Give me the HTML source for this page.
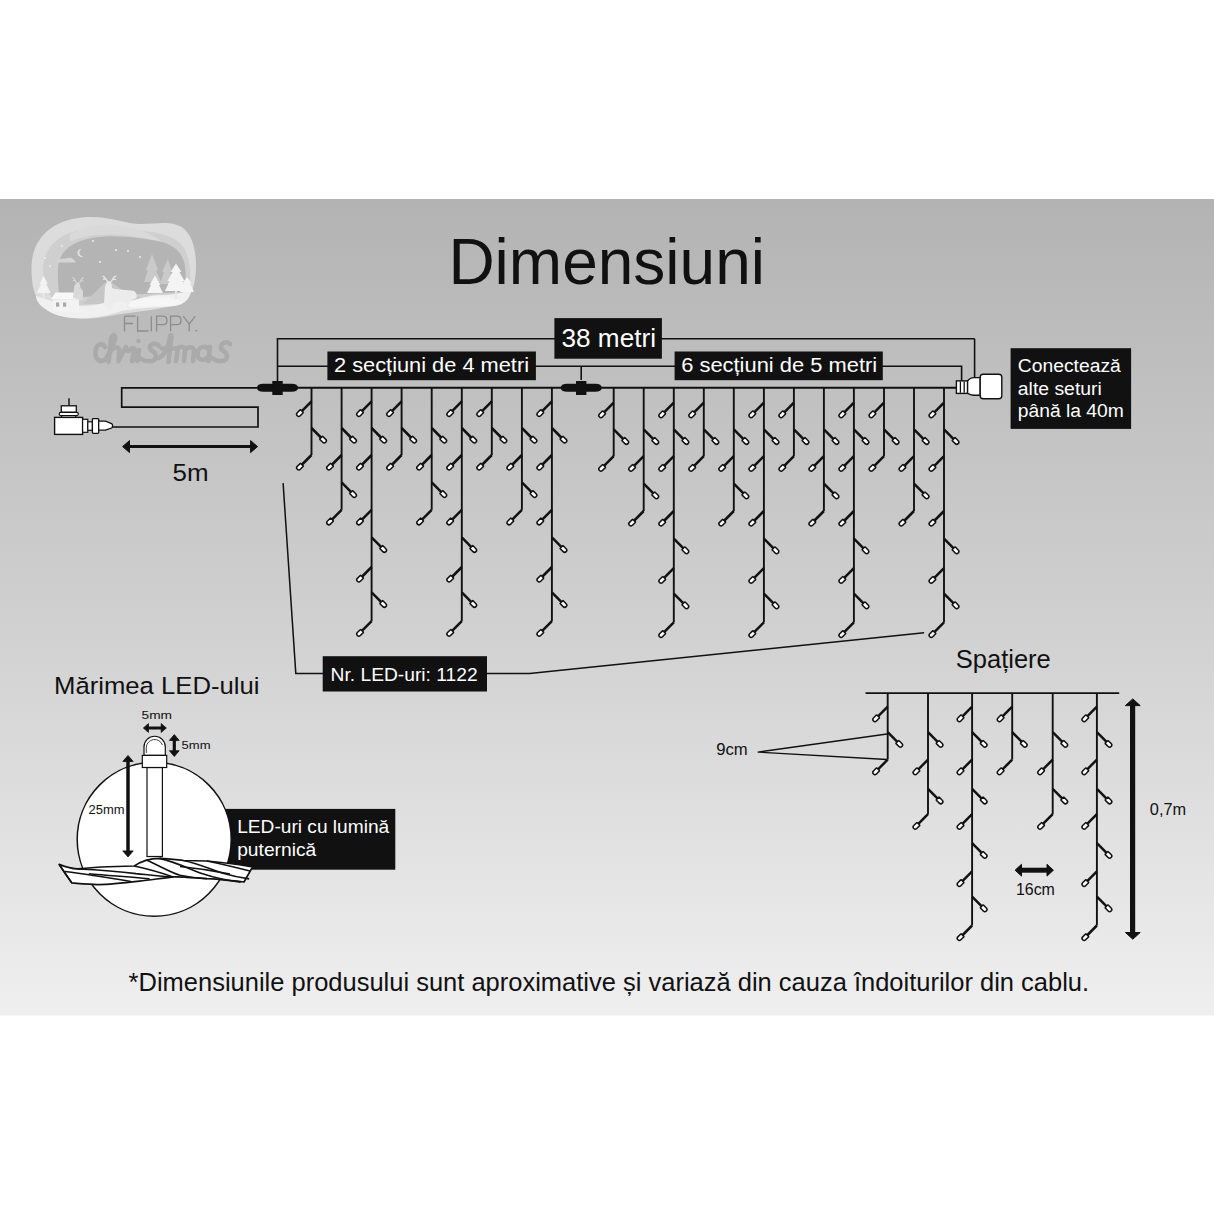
<!DOCTYPE html><html><head><meta charset="utf-8"><style>html,body{margin:0;padding:0;background:#fff;width:1214px;height:1214px;overflow:hidden}svg{display:block}text{font-family:"Liberation Sans",sans-serif}</style></head><body>
<svg width="1214" height="1214" viewBox="0 0 1214 1214">
<defs><linearGradient id="bg" x1="0" y1="0" x2="0" y2="1"><stop offset="0" stop-color="#b3b3b3"/><stop offset="0.5" stop-color="#cfcfcf"/><stop offset="1" stop-color="#efefef"/></linearGradient></defs>
<rect x="0" y="199" width="1214" height="816.5" fill="url(#bg)"/>
<text x="448.4" y="284.4" font-size="64" fill="#111111" >Dimensiuni</text>
<path d="M277.5 381V338.7H974.6" stroke="#111111" stroke-width="1.6" fill="none"/>
<path d="M277.5 366.3H961.6V382" stroke="#111111" stroke-width="1.6" fill="none"/>
<path d="M581.2 366.3V380" stroke="#111111" stroke-width="1.6" fill="none"/>
<rect x="554.4" y="318.1" width="107.5" height="40.6" fill="#111111"/>
<text x="561.5" y="347.1" font-size="26" fill="#fff" textLength="94.5" lengthAdjust="spacingAndGlyphs" >38 metri</text>
<rect x="327.4" y="351.5" width="208.5" height="28.7" fill="#111111"/>
<text x="334" y="371.9" font-size="20" fill="#fff" textLength="195" lengthAdjust="spacingAndGlyphs" >2 secțiuni de 4 metri</text>
<rect x="674.6" y="351.5" width="208.2" height="28.7" fill="#111111"/>
<text x="681.2" y="371.9" font-size="20" fill="#fff" textLength="196" lengthAdjust="spacingAndGlyphs" >6 secțiuni de 5 metri</text>
<path d="M257.5 387.7H958" stroke="#111111" stroke-width="2" fill="none"/>
<path d="M257.5 387.9H121.7V407.2H258V427H110" stroke="#111111" stroke-width="1.7" fill="none"/>
<path d="M257.0 387.7 Q257.0 383.8 263.5 383.8 H291.5 Q298.0 383.8 298.0 387.7 Q298.0 391.7 291.5 391.7 H263.5 Q257.0 391.7 257.0 387.7Z" fill="#111111"/>
<rect x="272.3" y="381" width="10.4" height="14" fill="#111111"/>
<path d="M560.7 387.7 Q560.7 383.8 567.2 383.8 H595.2 Q601.7 383.8 601.7 387.7 Q601.7 391.7 595.2 391.7 H567.2 Q560.7 391.7 560.7 387.7Z" fill="#111111"/>
<rect x="576.0" y="381" width="10.4" height="14" fill="#111111"/>
<path d="M974.6 338.7V378" stroke="#111111" stroke-width="1.6" fill="none"/>
<rect x="956.4" y="380.9" width="11.2" height="12.5" fill="#fff" stroke="#111111" stroke-width="1.4"/>
<path d="M960.4 381.5V392.8M964.2 381.5V392.8" stroke="#111111" stroke-width="1.3"/>
<path d="M967.6 381 Q970 377.6 974 377.6 H980.2 V395.2 H974 Q970 395.2 967.6 393.3Z" fill="#fff" stroke="#111111" stroke-width="1.4"/>
<rect x="980.2" y="374.2" width="21.6" height="24.6" rx="3" fill="#fff" stroke="#111111" stroke-width="1.4"/>
<rect x="1010.6" y="348.2" width="120.5" height="80.7" fill="#111111"/>
<text x="1017.8" y="372" font-size="18" fill="#fff" textLength="103" lengthAdjust="spacingAndGlyphs" >Conectează</text>
<text x="1017.8" y="395.2" font-size="18" fill="#fff" textLength="84" lengthAdjust="spacingAndGlyphs" >alte seturi</text>
<text x="1017.8" y="417.4" font-size="18" fill="#fff" textLength="106" lengthAdjust="spacingAndGlyphs" >până la 40m</text>
<path d="M69 398.3V405.8" stroke="#111111" stroke-width="1.4"/>
<rect x="61.6" y="415" width="14.1" height="3" fill="#fff" stroke="#111111" stroke-width="1.1"/>
<rect x="61.3" y="405.8" width="15" height="6.5" fill="#fff" stroke="#111111" stroke-width="1.3"/>
<rect x="59.2" y="412.4" width="19.1" height="3.2" rx="1.5" fill="#fff" stroke="#111111" stroke-width="1.2"/>
<rect x="54.6" y="417.4" width="28" height="17" fill="#fff" stroke="#111111" stroke-width="1.4"/>
<rect x="82.6" y="419.3" width="5.2" height="13" fill="#fff" stroke="#111111" stroke-width="1.2"/>
<rect x="87.8" y="421.8" width="4.6" height="8.5" fill="#fff" stroke="#111111" stroke-width="1.2"/>
<rect x="92.4" y="418.6" width="6.3" height="14.8" rx="0.8" fill="#fff" stroke="#111111" stroke-width="1.3"/>
<path d="M98.7 421.2H105.5L111.5 423.6Q112.6 424.2 112.6 425.8Q112.6 427.4 111.5 428L105.5 430.2H98.7Z" fill="#fff" stroke="#111111" stroke-width="1.3"/>
<path d="M128 446.6H252" stroke="#111111" stroke-width="3"/>
<path d="M122.6 446.6L129.5 440.6V452.6Z M257.5 446.6L250.6 440.6V452.6Z" fill="#111111" stroke="#111111" stroke-width="1" stroke-linejoin="round"/>
<text x="172.5" y="481.4" font-size="23" fill="#111111" textLength="36" lengthAdjust="spacingAndGlyphs" >5m</text>
<path d="M311.5 387.7V455.0" stroke="#111111" stroke-width="1.9" fill="none"/>
<path d="M311.5 401.4L299.6 413.4" stroke="#111111" stroke-width="2.5" fill="none" stroke-linecap="butt"/>
<path d="M-2.9 -2.1H1.2A2.1 2.1 0 0 1 1.2 2.1H-2.9Q-3.3 2.1 -3.3 1.7V-1.7Q-3.3 -2.1 -2.9 -2.1Z" transform="translate(299.6,413.4) rotate(135)" fill="#fff" stroke="#111111" stroke-width="1.5"/>
<path d="M311.5 428.0L323.4 440.0" stroke="#111111" stroke-width="2.5" fill="none" stroke-linecap="butt"/>
<path d="M-2.9 -2.1H1.2A2.1 2.1 0 0 1 1.2 2.1H-2.9Q-3.3 2.1 -3.3 1.7V-1.7Q-3.3 -2.1 -2.9 -2.1Z" transform="translate(323.4,440.0) rotate(45)" fill="#fff" stroke="#111111" stroke-width="1.5"/>
<path d="M311.5 455.0L299.6 467.0" stroke="#111111" stroke-width="2.5" fill="none" stroke-linecap="butt"/>
<path d="M-2.9 -2.1H1.2A2.1 2.1 0 0 1 1.2 2.1H-2.9Q-3.3 2.1 -3.3 1.7V-1.7Q-3.3 -2.1 -2.9 -2.1Z" transform="translate(299.6,467.0) rotate(135)" fill="#fff" stroke="#111111" stroke-width="1.5"/>
<path d="M341.6 387.7V509.8" stroke="#111111" stroke-width="1.9" fill="none"/>
<path d="M341.6 428.0L353.4 440.0" stroke="#111111" stroke-width="2.5" fill="none" stroke-linecap="butt"/>
<path d="M-2.9 -2.1H1.2A2.1 2.1 0 0 1 1.2 2.1H-2.9Q-3.3 2.1 -3.3 1.7V-1.7Q-3.3 -2.1 -2.9 -2.1Z" transform="translate(353.4,440.0) rotate(45)" fill="#fff" stroke="#111111" stroke-width="1.5"/>
<path d="M341.6 455.0L329.7 467.0" stroke="#111111" stroke-width="2.5" fill="none" stroke-linecap="butt"/>
<path d="M-2.9 -2.1H1.2A2.1 2.1 0 0 1 1.2 2.1H-2.9Q-3.3 2.1 -3.3 1.7V-1.7Q-3.3 -2.1 -2.9 -2.1Z" transform="translate(329.7,467.0) rotate(135)" fill="#fff" stroke="#111111" stroke-width="1.5"/>
<path d="M341.6 482.4L353.4 494.4" stroke="#111111" stroke-width="2.5" fill="none" stroke-linecap="butt"/>
<path d="M-2.9 -2.1H1.2A2.1 2.1 0 0 1 1.2 2.1H-2.9Q-3.3 2.1 -3.3 1.7V-1.7Q-3.3 -2.1 -2.9 -2.1Z" transform="translate(353.4,494.4) rotate(45)" fill="#fff" stroke="#111111" stroke-width="1.5"/>
<path d="M341.6 509.8L329.7 521.8" stroke="#111111" stroke-width="2.5" fill="none" stroke-linecap="butt"/>
<path d="M-2.9 -2.1H1.2A2.1 2.1 0 0 1 1.2 2.1H-2.9Q-3.3 2.1 -3.3 1.7V-1.7Q-3.3 -2.1 -2.9 -2.1Z" transform="translate(329.7,521.8) rotate(135)" fill="#fff" stroke="#111111" stroke-width="1.5"/>
<path d="M371.6 387.7V621.2" stroke="#111111" stroke-width="1.9" fill="none"/>
<path d="M371.6 401.4L359.7 413.4" stroke="#111111" stroke-width="2.5" fill="none" stroke-linecap="butt"/>
<path d="M-2.9 -2.1H1.2A2.1 2.1 0 0 1 1.2 2.1H-2.9Q-3.3 2.1 -3.3 1.7V-1.7Q-3.3 -2.1 -2.9 -2.1Z" transform="translate(359.7,413.4) rotate(135)" fill="#fff" stroke="#111111" stroke-width="1.5"/>
<path d="M371.6 428.0L383.5 440.0" stroke="#111111" stroke-width="2.5" fill="none" stroke-linecap="butt"/>
<path d="M-2.9 -2.1H1.2A2.1 2.1 0 0 1 1.2 2.1H-2.9Q-3.3 2.1 -3.3 1.7V-1.7Q-3.3 -2.1 -2.9 -2.1Z" transform="translate(383.5,440.0) rotate(45)" fill="#fff" stroke="#111111" stroke-width="1.5"/>
<path d="M371.6 455.0L359.7 467.0" stroke="#111111" stroke-width="2.5" fill="none" stroke-linecap="butt"/>
<path d="M-2.9 -2.1H1.2A2.1 2.1 0 0 1 1.2 2.1H-2.9Q-3.3 2.1 -3.3 1.7V-1.7Q-3.3 -2.1 -2.9 -2.1Z" transform="translate(359.7,467.0) rotate(135)" fill="#fff" stroke="#111111" stroke-width="1.5"/>
<path d="M371.6 509.8L359.7 521.8" stroke="#111111" stroke-width="2.5" fill="none" stroke-linecap="butt"/>
<path d="M-2.9 -2.1H1.2A2.1 2.1 0 0 1 1.2 2.1H-2.9Q-3.3 2.1 -3.3 1.7V-1.7Q-3.3 -2.1 -2.9 -2.1Z" transform="translate(359.7,521.8) rotate(135)" fill="#fff" stroke="#111111" stroke-width="1.5"/>
<path d="M371.6 537.3L383.5 549.3" stroke="#111111" stroke-width="2.5" fill="none" stroke-linecap="butt"/>
<path d="M-2.9 -2.1H1.2A2.1 2.1 0 0 1 1.2 2.1H-2.9Q-3.3 2.1 -3.3 1.7V-1.7Q-3.3 -2.1 -2.9 -2.1Z" transform="translate(383.5,549.3) rotate(45)" fill="#fff" stroke="#111111" stroke-width="1.5"/>
<path d="M371.6 567.0L359.7 579.0" stroke="#111111" stroke-width="2.5" fill="none" stroke-linecap="butt"/>
<path d="M-2.9 -2.1H1.2A2.1 2.1 0 0 1 1.2 2.1H-2.9Q-3.3 2.1 -3.3 1.7V-1.7Q-3.3 -2.1 -2.9 -2.1Z" transform="translate(359.7,579.0) rotate(135)" fill="#fff" stroke="#111111" stroke-width="1.5"/>
<path d="M371.6 592.3L383.5 604.3" stroke="#111111" stroke-width="2.5" fill="none" stroke-linecap="butt"/>
<path d="M-2.9 -2.1H1.2A2.1 2.1 0 0 1 1.2 2.1H-2.9Q-3.3 2.1 -3.3 1.7V-1.7Q-3.3 -2.1 -2.9 -2.1Z" transform="translate(383.5,604.3) rotate(45)" fill="#fff" stroke="#111111" stroke-width="1.5"/>
<path d="M371.6 621.2L359.7 633.2" stroke="#111111" stroke-width="2.5" fill="none" stroke-linecap="butt"/>
<path d="M-2.9 -2.1H1.2A2.1 2.1 0 0 1 1.2 2.1H-2.9Q-3.3 2.1 -3.3 1.7V-1.7Q-3.3 -2.1 -2.9 -2.1Z" transform="translate(359.7,633.2) rotate(135)" fill="#fff" stroke="#111111" stroke-width="1.5"/>
<path d="M401.6 387.7V455.0" stroke="#111111" stroke-width="1.9" fill="none"/>
<path d="M401.6 401.4L389.8 413.4" stroke="#111111" stroke-width="2.5" fill="none" stroke-linecap="butt"/>
<path d="M-2.9 -2.1H1.2A2.1 2.1 0 0 1 1.2 2.1H-2.9Q-3.3 2.1 -3.3 1.7V-1.7Q-3.3 -2.1 -2.9 -2.1Z" transform="translate(389.8,413.4) rotate(135)" fill="#fff" stroke="#111111" stroke-width="1.5"/>
<path d="M401.6 428.0L413.5 440.0" stroke="#111111" stroke-width="2.5" fill="none" stroke-linecap="butt"/>
<path d="M-2.9 -2.1H1.2A2.1 2.1 0 0 1 1.2 2.1H-2.9Q-3.3 2.1 -3.3 1.7V-1.7Q-3.3 -2.1 -2.9 -2.1Z" transform="translate(413.5,440.0) rotate(45)" fill="#fff" stroke="#111111" stroke-width="1.5"/>
<path d="M401.6 455.0L389.8 467.0" stroke="#111111" stroke-width="2.5" fill="none" stroke-linecap="butt"/>
<path d="M-2.9 -2.1H1.2A2.1 2.1 0 0 1 1.2 2.1H-2.9Q-3.3 2.1 -3.3 1.7V-1.7Q-3.3 -2.1 -2.9 -2.1Z" transform="translate(389.8,467.0) rotate(135)" fill="#fff" stroke="#111111" stroke-width="1.5"/>
<path d="M431.7 387.7V509.8" stroke="#111111" stroke-width="1.9" fill="none"/>
<path d="M431.7 428.0L443.6 440.0" stroke="#111111" stroke-width="2.5" fill="none" stroke-linecap="butt"/>
<path d="M-2.9 -2.1H1.2A2.1 2.1 0 0 1 1.2 2.1H-2.9Q-3.3 2.1 -3.3 1.7V-1.7Q-3.3 -2.1 -2.9 -2.1Z" transform="translate(443.6,440.0) rotate(45)" fill="#fff" stroke="#111111" stroke-width="1.5"/>
<path d="M431.7 455.0L419.8 467.0" stroke="#111111" stroke-width="2.5" fill="none" stroke-linecap="butt"/>
<path d="M-2.9 -2.1H1.2A2.1 2.1 0 0 1 1.2 2.1H-2.9Q-3.3 2.1 -3.3 1.7V-1.7Q-3.3 -2.1 -2.9 -2.1Z" transform="translate(419.8,467.0) rotate(135)" fill="#fff" stroke="#111111" stroke-width="1.5"/>
<path d="M431.7 482.4L443.6 494.4" stroke="#111111" stroke-width="2.5" fill="none" stroke-linecap="butt"/>
<path d="M-2.9 -2.1H1.2A2.1 2.1 0 0 1 1.2 2.1H-2.9Q-3.3 2.1 -3.3 1.7V-1.7Q-3.3 -2.1 -2.9 -2.1Z" transform="translate(443.6,494.4) rotate(45)" fill="#fff" stroke="#111111" stroke-width="1.5"/>
<path d="M431.7 509.8L419.8 521.8" stroke="#111111" stroke-width="2.5" fill="none" stroke-linecap="butt"/>
<path d="M-2.9 -2.1H1.2A2.1 2.1 0 0 1 1.2 2.1H-2.9Q-3.3 2.1 -3.3 1.7V-1.7Q-3.3 -2.1 -2.9 -2.1Z" transform="translate(419.8,521.8) rotate(135)" fill="#fff" stroke="#111111" stroke-width="1.5"/>
<path d="M461.8 387.7V621.2" stroke="#111111" stroke-width="1.9" fill="none"/>
<path d="M461.8 401.4L449.9 413.4" stroke="#111111" stroke-width="2.5" fill="none" stroke-linecap="butt"/>
<path d="M-2.9 -2.1H1.2A2.1 2.1 0 0 1 1.2 2.1H-2.9Q-3.3 2.1 -3.3 1.7V-1.7Q-3.3 -2.1 -2.9 -2.1Z" transform="translate(449.9,413.4) rotate(135)" fill="#fff" stroke="#111111" stroke-width="1.5"/>
<path d="M461.8 428.0L473.6 440.0" stroke="#111111" stroke-width="2.5" fill="none" stroke-linecap="butt"/>
<path d="M-2.9 -2.1H1.2A2.1 2.1 0 0 1 1.2 2.1H-2.9Q-3.3 2.1 -3.3 1.7V-1.7Q-3.3 -2.1 -2.9 -2.1Z" transform="translate(473.6,440.0) rotate(45)" fill="#fff" stroke="#111111" stroke-width="1.5"/>
<path d="M461.8 455.0L449.9 467.0" stroke="#111111" stroke-width="2.5" fill="none" stroke-linecap="butt"/>
<path d="M-2.9 -2.1H1.2A2.1 2.1 0 0 1 1.2 2.1H-2.9Q-3.3 2.1 -3.3 1.7V-1.7Q-3.3 -2.1 -2.9 -2.1Z" transform="translate(449.9,467.0) rotate(135)" fill="#fff" stroke="#111111" stroke-width="1.5"/>
<path d="M461.8 509.8L449.9 521.8" stroke="#111111" stroke-width="2.5" fill="none" stroke-linecap="butt"/>
<path d="M-2.9 -2.1H1.2A2.1 2.1 0 0 1 1.2 2.1H-2.9Q-3.3 2.1 -3.3 1.7V-1.7Q-3.3 -2.1 -2.9 -2.1Z" transform="translate(449.9,521.8) rotate(135)" fill="#fff" stroke="#111111" stroke-width="1.5"/>
<path d="M461.8 537.3L473.6 549.3" stroke="#111111" stroke-width="2.5" fill="none" stroke-linecap="butt"/>
<path d="M-2.9 -2.1H1.2A2.1 2.1 0 0 1 1.2 2.1H-2.9Q-3.3 2.1 -3.3 1.7V-1.7Q-3.3 -2.1 -2.9 -2.1Z" transform="translate(473.6,549.3) rotate(45)" fill="#fff" stroke="#111111" stroke-width="1.5"/>
<path d="M461.8 567.0L449.9 579.0" stroke="#111111" stroke-width="2.5" fill="none" stroke-linecap="butt"/>
<path d="M-2.9 -2.1H1.2A2.1 2.1 0 0 1 1.2 2.1H-2.9Q-3.3 2.1 -3.3 1.7V-1.7Q-3.3 -2.1 -2.9 -2.1Z" transform="translate(449.9,579.0) rotate(135)" fill="#fff" stroke="#111111" stroke-width="1.5"/>
<path d="M461.8 592.3L473.6 604.3" stroke="#111111" stroke-width="2.5" fill="none" stroke-linecap="butt"/>
<path d="M-2.9 -2.1H1.2A2.1 2.1 0 0 1 1.2 2.1H-2.9Q-3.3 2.1 -3.3 1.7V-1.7Q-3.3 -2.1 -2.9 -2.1Z" transform="translate(473.6,604.3) rotate(45)" fill="#fff" stroke="#111111" stroke-width="1.5"/>
<path d="M461.8 621.2L449.9 633.2" stroke="#111111" stroke-width="2.5" fill="none" stroke-linecap="butt"/>
<path d="M-2.9 -2.1H1.2A2.1 2.1 0 0 1 1.2 2.1H-2.9Q-3.3 2.1 -3.3 1.7V-1.7Q-3.3 -2.1 -2.9 -2.1Z" transform="translate(449.9,633.2) rotate(135)" fill="#fff" stroke="#111111" stroke-width="1.5"/>
<path d="M491.8 387.7V455.0" stroke="#111111" stroke-width="1.9" fill="none"/>
<path d="M491.8 401.4L479.9 413.4" stroke="#111111" stroke-width="2.5" fill="none" stroke-linecap="butt"/>
<path d="M-2.9 -2.1H1.2A2.1 2.1 0 0 1 1.2 2.1H-2.9Q-3.3 2.1 -3.3 1.7V-1.7Q-3.3 -2.1 -2.9 -2.1Z" transform="translate(479.9,413.4) rotate(135)" fill="#fff" stroke="#111111" stroke-width="1.5"/>
<path d="M491.8 428.0L503.7 440.0" stroke="#111111" stroke-width="2.5" fill="none" stroke-linecap="butt"/>
<path d="M-2.9 -2.1H1.2A2.1 2.1 0 0 1 1.2 2.1H-2.9Q-3.3 2.1 -3.3 1.7V-1.7Q-3.3 -2.1 -2.9 -2.1Z" transform="translate(503.7,440.0) rotate(45)" fill="#fff" stroke="#111111" stroke-width="1.5"/>
<path d="M491.8 455.0L479.9 467.0" stroke="#111111" stroke-width="2.5" fill="none" stroke-linecap="butt"/>
<path d="M-2.9 -2.1H1.2A2.1 2.1 0 0 1 1.2 2.1H-2.9Q-3.3 2.1 -3.3 1.7V-1.7Q-3.3 -2.1 -2.9 -2.1Z" transform="translate(479.9,467.0) rotate(135)" fill="#fff" stroke="#111111" stroke-width="1.5"/>
<path d="M521.9 387.7V509.8" stroke="#111111" stroke-width="1.9" fill="none"/>
<path d="M521.9 428.0L533.8 440.0" stroke="#111111" stroke-width="2.5" fill="none" stroke-linecap="butt"/>
<path d="M-2.9 -2.1H1.2A2.1 2.1 0 0 1 1.2 2.1H-2.9Q-3.3 2.1 -3.3 1.7V-1.7Q-3.3 -2.1 -2.9 -2.1Z" transform="translate(533.8,440.0) rotate(45)" fill="#fff" stroke="#111111" stroke-width="1.5"/>
<path d="M521.9 455.0L510.0 467.0" stroke="#111111" stroke-width="2.5" fill="none" stroke-linecap="butt"/>
<path d="M-2.9 -2.1H1.2A2.1 2.1 0 0 1 1.2 2.1H-2.9Q-3.3 2.1 -3.3 1.7V-1.7Q-3.3 -2.1 -2.9 -2.1Z" transform="translate(510.0,467.0) rotate(135)" fill="#fff" stroke="#111111" stroke-width="1.5"/>
<path d="M521.9 482.4L533.8 494.4" stroke="#111111" stroke-width="2.5" fill="none" stroke-linecap="butt"/>
<path d="M-2.9 -2.1H1.2A2.1 2.1 0 0 1 1.2 2.1H-2.9Q-3.3 2.1 -3.3 1.7V-1.7Q-3.3 -2.1 -2.9 -2.1Z" transform="translate(533.8,494.4) rotate(45)" fill="#fff" stroke="#111111" stroke-width="1.5"/>
<path d="M521.9 509.8L510.0 521.8" stroke="#111111" stroke-width="2.5" fill="none" stroke-linecap="butt"/>
<path d="M-2.9 -2.1H1.2A2.1 2.1 0 0 1 1.2 2.1H-2.9Q-3.3 2.1 -3.3 1.7V-1.7Q-3.3 -2.1 -2.9 -2.1Z" transform="translate(510.0,521.8) rotate(135)" fill="#fff" stroke="#111111" stroke-width="1.5"/>
<path d="M551.9 387.7V621.2" stroke="#111111" stroke-width="1.9" fill="none"/>
<path d="M551.9 401.4L540.0 413.4" stroke="#111111" stroke-width="2.5" fill="none" stroke-linecap="butt"/>
<path d="M-2.9 -2.1H1.2A2.1 2.1 0 0 1 1.2 2.1H-2.9Q-3.3 2.1 -3.3 1.7V-1.7Q-3.3 -2.1 -2.9 -2.1Z" transform="translate(540.0,413.4) rotate(135)" fill="#fff" stroke="#111111" stroke-width="1.5"/>
<path d="M551.9 428.0L563.8 440.0" stroke="#111111" stroke-width="2.5" fill="none" stroke-linecap="butt"/>
<path d="M-2.9 -2.1H1.2A2.1 2.1 0 0 1 1.2 2.1H-2.9Q-3.3 2.1 -3.3 1.7V-1.7Q-3.3 -2.1 -2.9 -2.1Z" transform="translate(563.8,440.0) rotate(45)" fill="#fff" stroke="#111111" stroke-width="1.5"/>
<path d="M551.9 455.0L540.0 467.0" stroke="#111111" stroke-width="2.5" fill="none" stroke-linecap="butt"/>
<path d="M-2.9 -2.1H1.2A2.1 2.1 0 0 1 1.2 2.1H-2.9Q-3.3 2.1 -3.3 1.7V-1.7Q-3.3 -2.1 -2.9 -2.1Z" transform="translate(540.0,467.0) rotate(135)" fill="#fff" stroke="#111111" stroke-width="1.5"/>
<path d="M551.9 509.8L540.0 521.8" stroke="#111111" stroke-width="2.5" fill="none" stroke-linecap="butt"/>
<path d="M-2.9 -2.1H1.2A2.1 2.1 0 0 1 1.2 2.1H-2.9Q-3.3 2.1 -3.3 1.7V-1.7Q-3.3 -2.1 -2.9 -2.1Z" transform="translate(540.0,521.8) rotate(135)" fill="#fff" stroke="#111111" stroke-width="1.5"/>
<path d="M551.9 537.3L563.8 549.3" stroke="#111111" stroke-width="2.5" fill="none" stroke-linecap="butt"/>
<path d="M-2.9 -2.1H1.2A2.1 2.1 0 0 1 1.2 2.1H-2.9Q-3.3 2.1 -3.3 1.7V-1.7Q-3.3 -2.1 -2.9 -2.1Z" transform="translate(563.8,549.3) rotate(45)" fill="#fff" stroke="#111111" stroke-width="1.5"/>
<path d="M551.9 567.0L540.0 579.0" stroke="#111111" stroke-width="2.5" fill="none" stroke-linecap="butt"/>
<path d="M-2.9 -2.1H1.2A2.1 2.1 0 0 1 1.2 2.1H-2.9Q-3.3 2.1 -3.3 1.7V-1.7Q-3.3 -2.1 -2.9 -2.1Z" transform="translate(540.0,579.0) rotate(135)" fill="#fff" stroke="#111111" stroke-width="1.5"/>
<path d="M551.9 592.3L563.8 604.3" stroke="#111111" stroke-width="2.5" fill="none" stroke-linecap="butt"/>
<path d="M-2.9 -2.1H1.2A2.1 2.1 0 0 1 1.2 2.1H-2.9Q-3.3 2.1 -3.3 1.7V-1.7Q-3.3 -2.1 -2.9 -2.1Z" transform="translate(563.8,604.3) rotate(45)" fill="#fff" stroke="#111111" stroke-width="1.5"/>
<path d="M551.9 621.2L540.0 633.2" stroke="#111111" stroke-width="2.5" fill="none" stroke-linecap="butt"/>
<path d="M-2.9 -2.1H1.2A2.1 2.1 0 0 1 1.2 2.1H-2.9Q-3.3 2.1 -3.3 1.7V-1.7Q-3.3 -2.1 -2.9 -2.1Z" transform="translate(540.0,633.2) rotate(135)" fill="#fff" stroke="#111111" stroke-width="1.5"/>
<path d="M613.7 387.7V456.2" stroke="#111111" stroke-width="1.9" fill="none"/>
<path d="M613.7 402.6L601.8 414.6" stroke="#111111" stroke-width="2.5" fill="none" stroke-linecap="butt"/>
<path d="M-2.9 -2.1H1.2A2.1 2.1 0 0 1 1.2 2.1H-2.9Q-3.3 2.1 -3.3 1.7V-1.7Q-3.3 -2.1 -2.9 -2.1Z" transform="translate(601.8,414.6) rotate(135)" fill="#fff" stroke="#111111" stroke-width="1.5"/>
<path d="M613.7 429.3L625.6 441.3" stroke="#111111" stroke-width="2.5" fill="none" stroke-linecap="butt"/>
<path d="M-2.9 -2.1H1.2A2.1 2.1 0 0 1 1.2 2.1H-2.9Q-3.3 2.1 -3.3 1.7V-1.7Q-3.3 -2.1 -2.9 -2.1Z" transform="translate(625.6,441.3) rotate(45)" fill="#fff" stroke="#111111" stroke-width="1.5"/>
<path d="M613.7 456.2L601.8 468.2" stroke="#111111" stroke-width="2.5" fill="none" stroke-linecap="butt"/>
<path d="M-2.9 -2.1H1.2A2.1 2.1 0 0 1 1.2 2.1H-2.9Q-3.3 2.1 -3.3 1.7V-1.7Q-3.3 -2.1 -2.9 -2.1Z" transform="translate(601.8,468.2) rotate(135)" fill="#fff" stroke="#111111" stroke-width="1.5"/>
<path d="M643.7 387.7V511.0" stroke="#111111" stroke-width="1.9" fill="none"/>
<path d="M643.7 429.3L655.6 441.3" stroke="#111111" stroke-width="2.5" fill="none" stroke-linecap="butt"/>
<path d="M-2.9 -2.1H1.2A2.1 2.1 0 0 1 1.2 2.1H-2.9Q-3.3 2.1 -3.3 1.7V-1.7Q-3.3 -2.1 -2.9 -2.1Z" transform="translate(655.6,441.3) rotate(45)" fill="#fff" stroke="#111111" stroke-width="1.5"/>
<path d="M643.7 456.2L631.8 468.2" stroke="#111111" stroke-width="2.5" fill="none" stroke-linecap="butt"/>
<path d="M-2.9 -2.1H1.2A2.1 2.1 0 0 1 1.2 2.1H-2.9Q-3.3 2.1 -3.3 1.7V-1.7Q-3.3 -2.1 -2.9 -2.1Z" transform="translate(631.8,468.2) rotate(135)" fill="#fff" stroke="#111111" stroke-width="1.5"/>
<path d="M643.7 483.7L655.6 495.7" stroke="#111111" stroke-width="2.5" fill="none" stroke-linecap="butt"/>
<path d="M-2.9 -2.1H1.2A2.1 2.1 0 0 1 1.2 2.1H-2.9Q-3.3 2.1 -3.3 1.7V-1.7Q-3.3 -2.1 -2.9 -2.1Z" transform="translate(655.6,495.7) rotate(45)" fill="#fff" stroke="#111111" stroke-width="1.5"/>
<path d="M643.7 511.0L631.8 523.0" stroke="#111111" stroke-width="2.5" fill="none" stroke-linecap="butt"/>
<path d="M-2.9 -2.1H1.2A2.1 2.1 0 0 1 1.2 2.1H-2.9Q-3.3 2.1 -3.3 1.7V-1.7Q-3.3 -2.1 -2.9 -2.1Z" transform="translate(631.8,523.0) rotate(135)" fill="#fff" stroke="#111111" stroke-width="1.5"/>
<path d="M673.8 387.7V622.4" stroke="#111111" stroke-width="1.9" fill="none"/>
<path d="M673.8 402.6L661.9 414.6" stroke="#111111" stroke-width="2.5" fill="none" stroke-linecap="butt"/>
<path d="M-2.9 -2.1H1.2A2.1 2.1 0 0 1 1.2 2.1H-2.9Q-3.3 2.1 -3.3 1.7V-1.7Q-3.3 -2.1 -2.9 -2.1Z" transform="translate(661.9,414.6) rotate(135)" fill="#fff" stroke="#111111" stroke-width="1.5"/>
<path d="M673.8 429.3L685.7 441.3" stroke="#111111" stroke-width="2.5" fill="none" stroke-linecap="butt"/>
<path d="M-2.9 -2.1H1.2A2.1 2.1 0 0 1 1.2 2.1H-2.9Q-3.3 2.1 -3.3 1.7V-1.7Q-3.3 -2.1 -2.9 -2.1Z" transform="translate(685.7,441.3) rotate(45)" fill="#fff" stroke="#111111" stroke-width="1.5"/>
<path d="M673.8 456.2L661.9 468.2" stroke="#111111" stroke-width="2.5" fill="none" stroke-linecap="butt"/>
<path d="M-2.9 -2.1H1.2A2.1 2.1 0 0 1 1.2 2.1H-2.9Q-3.3 2.1 -3.3 1.7V-1.7Q-3.3 -2.1 -2.9 -2.1Z" transform="translate(661.9,468.2) rotate(135)" fill="#fff" stroke="#111111" stroke-width="1.5"/>
<path d="M673.8 511.0L661.9 523.0" stroke="#111111" stroke-width="2.5" fill="none" stroke-linecap="butt"/>
<path d="M-2.9 -2.1H1.2A2.1 2.1 0 0 1 1.2 2.1H-2.9Q-3.3 2.1 -3.3 1.7V-1.7Q-3.3 -2.1 -2.9 -2.1Z" transform="translate(661.9,523.0) rotate(135)" fill="#fff" stroke="#111111" stroke-width="1.5"/>
<path d="M673.8 538.6L685.7 550.6" stroke="#111111" stroke-width="2.5" fill="none" stroke-linecap="butt"/>
<path d="M-2.9 -2.1H1.2A2.1 2.1 0 0 1 1.2 2.1H-2.9Q-3.3 2.1 -3.3 1.7V-1.7Q-3.3 -2.1 -2.9 -2.1Z" transform="translate(685.7,550.6) rotate(45)" fill="#fff" stroke="#111111" stroke-width="1.5"/>
<path d="M673.8 568.2L661.9 580.2" stroke="#111111" stroke-width="2.5" fill="none" stroke-linecap="butt"/>
<path d="M-2.9 -2.1H1.2A2.1 2.1 0 0 1 1.2 2.1H-2.9Q-3.3 2.1 -3.3 1.7V-1.7Q-3.3 -2.1 -2.9 -2.1Z" transform="translate(661.9,580.2) rotate(135)" fill="#fff" stroke="#111111" stroke-width="1.5"/>
<path d="M673.8 593.6L685.7 605.6" stroke="#111111" stroke-width="2.5" fill="none" stroke-linecap="butt"/>
<path d="M-2.9 -2.1H1.2A2.1 2.1 0 0 1 1.2 2.1H-2.9Q-3.3 2.1 -3.3 1.7V-1.7Q-3.3 -2.1 -2.9 -2.1Z" transform="translate(685.7,605.6) rotate(45)" fill="#fff" stroke="#111111" stroke-width="1.5"/>
<path d="M673.8 622.4L661.9 634.4" stroke="#111111" stroke-width="2.5" fill="none" stroke-linecap="butt"/>
<path d="M-2.9 -2.1H1.2A2.1 2.1 0 0 1 1.2 2.1H-2.9Q-3.3 2.1 -3.3 1.7V-1.7Q-3.3 -2.1 -2.9 -2.1Z" transform="translate(661.9,634.4) rotate(135)" fill="#fff" stroke="#111111" stroke-width="1.5"/>
<path d="M703.8 387.7V456.2" stroke="#111111" stroke-width="1.9" fill="none"/>
<path d="M703.8 402.6L691.9 414.6" stroke="#111111" stroke-width="2.5" fill="none" stroke-linecap="butt"/>
<path d="M-2.9 -2.1H1.2A2.1 2.1 0 0 1 1.2 2.1H-2.9Q-3.3 2.1 -3.3 1.7V-1.7Q-3.3 -2.1 -2.9 -2.1Z" transform="translate(691.9,414.6) rotate(135)" fill="#fff" stroke="#111111" stroke-width="1.5"/>
<path d="M703.8 429.3L715.7 441.3" stroke="#111111" stroke-width="2.5" fill="none" stroke-linecap="butt"/>
<path d="M-2.9 -2.1H1.2A2.1 2.1 0 0 1 1.2 2.1H-2.9Q-3.3 2.1 -3.3 1.7V-1.7Q-3.3 -2.1 -2.9 -2.1Z" transform="translate(715.7,441.3) rotate(45)" fill="#fff" stroke="#111111" stroke-width="1.5"/>
<path d="M703.8 456.2L691.9 468.2" stroke="#111111" stroke-width="2.5" fill="none" stroke-linecap="butt"/>
<path d="M-2.9 -2.1H1.2A2.1 2.1 0 0 1 1.2 2.1H-2.9Q-3.3 2.1 -3.3 1.7V-1.7Q-3.3 -2.1 -2.9 -2.1Z" transform="translate(691.9,468.2) rotate(135)" fill="#fff" stroke="#111111" stroke-width="1.5"/>
<path d="M733.8 387.7V511.0" stroke="#111111" stroke-width="1.9" fill="none"/>
<path d="M733.8 429.3L745.7 441.3" stroke="#111111" stroke-width="2.5" fill="none" stroke-linecap="butt"/>
<path d="M-2.9 -2.1H1.2A2.1 2.1 0 0 1 1.2 2.1H-2.9Q-3.3 2.1 -3.3 1.7V-1.7Q-3.3 -2.1 -2.9 -2.1Z" transform="translate(745.7,441.3) rotate(45)" fill="#fff" stroke="#111111" stroke-width="1.5"/>
<path d="M733.8 456.2L721.9 468.2" stroke="#111111" stroke-width="2.5" fill="none" stroke-linecap="butt"/>
<path d="M-2.9 -2.1H1.2A2.1 2.1 0 0 1 1.2 2.1H-2.9Q-3.3 2.1 -3.3 1.7V-1.7Q-3.3 -2.1 -2.9 -2.1Z" transform="translate(721.9,468.2) rotate(135)" fill="#fff" stroke="#111111" stroke-width="1.5"/>
<path d="M733.8 483.7L745.7 495.7" stroke="#111111" stroke-width="2.5" fill="none" stroke-linecap="butt"/>
<path d="M-2.9 -2.1H1.2A2.1 2.1 0 0 1 1.2 2.1H-2.9Q-3.3 2.1 -3.3 1.7V-1.7Q-3.3 -2.1 -2.9 -2.1Z" transform="translate(745.7,495.7) rotate(45)" fill="#fff" stroke="#111111" stroke-width="1.5"/>
<path d="M733.8 511.0L721.9 523.0" stroke="#111111" stroke-width="2.5" fill="none" stroke-linecap="butt"/>
<path d="M-2.9 -2.1H1.2A2.1 2.1 0 0 1 1.2 2.1H-2.9Q-3.3 2.1 -3.3 1.7V-1.7Q-3.3 -2.1 -2.9 -2.1Z" transform="translate(721.9,523.0) rotate(135)" fill="#fff" stroke="#111111" stroke-width="1.5"/>
<path d="M763.9 387.7V622.4" stroke="#111111" stroke-width="1.9" fill="none"/>
<path d="M763.9 402.6L752.0 414.6" stroke="#111111" stroke-width="2.5" fill="none" stroke-linecap="butt"/>
<path d="M-2.9 -2.1H1.2A2.1 2.1 0 0 1 1.2 2.1H-2.9Q-3.3 2.1 -3.3 1.7V-1.7Q-3.3 -2.1 -2.9 -2.1Z" transform="translate(752.0,414.6) rotate(135)" fill="#fff" stroke="#111111" stroke-width="1.5"/>
<path d="M763.9 429.3L775.8 441.3" stroke="#111111" stroke-width="2.5" fill="none" stroke-linecap="butt"/>
<path d="M-2.9 -2.1H1.2A2.1 2.1 0 0 1 1.2 2.1H-2.9Q-3.3 2.1 -3.3 1.7V-1.7Q-3.3 -2.1 -2.9 -2.1Z" transform="translate(775.8,441.3) rotate(45)" fill="#fff" stroke="#111111" stroke-width="1.5"/>
<path d="M763.9 456.2L752.0 468.2" stroke="#111111" stroke-width="2.5" fill="none" stroke-linecap="butt"/>
<path d="M-2.9 -2.1H1.2A2.1 2.1 0 0 1 1.2 2.1H-2.9Q-3.3 2.1 -3.3 1.7V-1.7Q-3.3 -2.1 -2.9 -2.1Z" transform="translate(752.0,468.2) rotate(135)" fill="#fff" stroke="#111111" stroke-width="1.5"/>
<path d="M763.9 511.0L752.0 523.0" stroke="#111111" stroke-width="2.5" fill="none" stroke-linecap="butt"/>
<path d="M-2.9 -2.1H1.2A2.1 2.1 0 0 1 1.2 2.1H-2.9Q-3.3 2.1 -3.3 1.7V-1.7Q-3.3 -2.1 -2.9 -2.1Z" transform="translate(752.0,523.0) rotate(135)" fill="#fff" stroke="#111111" stroke-width="1.5"/>
<path d="M763.9 538.6L775.8 550.6" stroke="#111111" stroke-width="2.5" fill="none" stroke-linecap="butt"/>
<path d="M-2.9 -2.1H1.2A2.1 2.1 0 0 1 1.2 2.1H-2.9Q-3.3 2.1 -3.3 1.7V-1.7Q-3.3 -2.1 -2.9 -2.1Z" transform="translate(775.8,550.6) rotate(45)" fill="#fff" stroke="#111111" stroke-width="1.5"/>
<path d="M763.9 568.2L752.0 580.2" stroke="#111111" stroke-width="2.5" fill="none" stroke-linecap="butt"/>
<path d="M-2.9 -2.1H1.2A2.1 2.1 0 0 1 1.2 2.1H-2.9Q-3.3 2.1 -3.3 1.7V-1.7Q-3.3 -2.1 -2.9 -2.1Z" transform="translate(752.0,580.2) rotate(135)" fill="#fff" stroke="#111111" stroke-width="1.5"/>
<path d="M763.9 593.6L775.8 605.6" stroke="#111111" stroke-width="2.5" fill="none" stroke-linecap="butt"/>
<path d="M-2.9 -2.1H1.2A2.1 2.1 0 0 1 1.2 2.1H-2.9Q-3.3 2.1 -3.3 1.7V-1.7Q-3.3 -2.1 -2.9 -2.1Z" transform="translate(775.8,605.6) rotate(45)" fill="#fff" stroke="#111111" stroke-width="1.5"/>
<path d="M763.9 622.4L752.0 634.4" stroke="#111111" stroke-width="2.5" fill="none" stroke-linecap="butt"/>
<path d="M-2.9 -2.1H1.2A2.1 2.1 0 0 1 1.2 2.1H-2.9Q-3.3 2.1 -3.3 1.7V-1.7Q-3.3 -2.1 -2.9 -2.1Z" transform="translate(752.0,634.4) rotate(135)" fill="#fff" stroke="#111111" stroke-width="1.5"/>
<path d="M793.9 387.7V456.2" stroke="#111111" stroke-width="1.9" fill="none"/>
<path d="M793.9 402.6L782.0 414.6" stroke="#111111" stroke-width="2.5" fill="none" stroke-linecap="butt"/>
<path d="M-2.9 -2.1H1.2A2.1 2.1 0 0 1 1.2 2.1H-2.9Q-3.3 2.1 -3.3 1.7V-1.7Q-3.3 -2.1 -2.9 -2.1Z" transform="translate(782.0,414.6) rotate(135)" fill="#fff" stroke="#111111" stroke-width="1.5"/>
<path d="M793.9 429.3L805.8 441.3" stroke="#111111" stroke-width="2.5" fill="none" stroke-linecap="butt"/>
<path d="M-2.9 -2.1H1.2A2.1 2.1 0 0 1 1.2 2.1H-2.9Q-3.3 2.1 -3.3 1.7V-1.7Q-3.3 -2.1 -2.9 -2.1Z" transform="translate(805.8,441.3) rotate(45)" fill="#fff" stroke="#111111" stroke-width="1.5"/>
<path d="M793.9 456.2L782.0 468.2" stroke="#111111" stroke-width="2.5" fill="none" stroke-linecap="butt"/>
<path d="M-2.9 -2.1H1.2A2.1 2.1 0 0 1 1.2 2.1H-2.9Q-3.3 2.1 -3.3 1.7V-1.7Q-3.3 -2.1 -2.9 -2.1Z" transform="translate(782.0,468.2) rotate(135)" fill="#fff" stroke="#111111" stroke-width="1.5"/>
<path d="M823.9 387.7V511.0" stroke="#111111" stroke-width="1.9" fill="none"/>
<path d="M823.9 429.3L835.8 441.3" stroke="#111111" stroke-width="2.5" fill="none" stroke-linecap="butt"/>
<path d="M-2.9 -2.1H1.2A2.1 2.1 0 0 1 1.2 2.1H-2.9Q-3.3 2.1 -3.3 1.7V-1.7Q-3.3 -2.1 -2.9 -2.1Z" transform="translate(835.8,441.3) rotate(45)" fill="#fff" stroke="#111111" stroke-width="1.5"/>
<path d="M823.9 456.2L812.0 468.2" stroke="#111111" stroke-width="2.5" fill="none" stroke-linecap="butt"/>
<path d="M-2.9 -2.1H1.2A2.1 2.1 0 0 1 1.2 2.1H-2.9Q-3.3 2.1 -3.3 1.7V-1.7Q-3.3 -2.1 -2.9 -2.1Z" transform="translate(812.0,468.2) rotate(135)" fill="#fff" stroke="#111111" stroke-width="1.5"/>
<path d="M823.9 483.7L835.8 495.7" stroke="#111111" stroke-width="2.5" fill="none" stroke-linecap="butt"/>
<path d="M-2.9 -2.1H1.2A2.1 2.1 0 0 1 1.2 2.1H-2.9Q-3.3 2.1 -3.3 1.7V-1.7Q-3.3 -2.1 -2.9 -2.1Z" transform="translate(835.8,495.7) rotate(45)" fill="#fff" stroke="#111111" stroke-width="1.5"/>
<path d="M823.9 511.0L812.0 523.0" stroke="#111111" stroke-width="2.5" fill="none" stroke-linecap="butt"/>
<path d="M-2.9 -2.1H1.2A2.1 2.1 0 0 1 1.2 2.1H-2.9Q-3.3 2.1 -3.3 1.7V-1.7Q-3.3 -2.1 -2.9 -2.1Z" transform="translate(812.0,523.0) rotate(135)" fill="#fff" stroke="#111111" stroke-width="1.5"/>
<path d="M853.9 387.7V622.4" stroke="#111111" stroke-width="1.9" fill="none"/>
<path d="M853.9 402.6L842.0 414.6" stroke="#111111" stroke-width="2.5" fill="none" stroke-linecap="butt"/>
<path d="M-2.9 -2.1H1.2A2.1 2.1 0 0 1 1.2 2.1H-2.9Q-3.3 2.1 -3.3 1.7V-1.7Q-3.3 -2.1 -2.9 -2.1Z" transform="translate(842.0,414.6) rotate(135)" fill="#fff" stroke="#111111" stroke-width="1.5"/>
<path d="M853.9 429.3L865.8 441.3" stroke="#111111" stroke-width="2.5" fill="none" stroke-linecap="butt"/>
<path d="M-2.9 -2.1H1.2A2.1 2.1 0 0 1 1.2 2.1H-2.9Q-3.3 2.1 -3.3 1.7V-1.7Q-3.3 -2.1 -2.9 -2.1Z" transform="translate(865.8,441.3) rotate(45)" fill="#fff" stroke="#111111" stroke-width="1.5"/>
<path d="M853.9 456.2L842.0 468.2" stroke="#111111" stroke-width="2.5" fill="none" stroke-linecap="butt"/>
<path d="M-2.9 -2.1H1.2A2.1 2.1 0 0 1 1.2 2.1H-2.9Q-3.3 2.1 -3.3 1.7V-1.7Q-3.3 -2.1 -2.9 -2.1Z" transform="translate(842.0,468.2) rotate(135)" fill="#fff" stroke="#111111" stroke-width="1.5"/>
<path d="M853.9 511.0L842.0 523.0" stroke="#111111" stroke-width="2.5" fill="none" stroke-linecap="butt"/>
<path d="M-2.9 -2.1H1.2A2.1 2.1 0 0 1 1.2 2.1H-2.9Q-3.3 2.1 -3.3 1.7V-1.7Q-3.3 -2.1 -2.9 -2.1Z" transform="translate(842.0,523.0) rotate(135)" fill="#fff" stroke="#111111" stroke-width="1.5"/>
<path d="M853.9 538.6L865.8 550.6" stroke="#111111" stroke-width="2.5" fill="none" stroke-linecap="butt"/>
<path d="M-2.9 -2.1H1.2A2.1 2.1 0 0 1 1.2 2.1H-2.9Q-3.3 2.1 -3.3 1.7V-1.7Q-3.3 -2.1 -2.9 -2.1Z" transform="translate(865.8,550.6) rotate(45)" fill="#fff" stroke="#111111" stroke-width="1.5"/>
<path d="M853.9 568.2L842.0 580.2" stroke="#111111" stroke-width="2.5" fill="none" stroke-linecap="butt"/>
<path d="M-2.9 -2.1H1.2A2.1 2.1 0 0 1 1.2 2.1H-2.9Q-3.3 2.1 -3.3 1.7V-1.7Q-3.3 -2.1 -2.9 -2.1Z" transform="translate(842.0,580.2) rotate(135)" fill="#fff" stroke="#111111" stroke-width="1.5"/>
<path d="M853.9 593.6L865.8 605.6" stroke="#111111" stroke-width="2.5" fill="none" stroke-linecap="butt"/>
<path d="M-2.9 -2.1H1.2A2.1 2.1 0 0 1 1.2 2.1H-2.9Q-3.3 2.1 -3.3 1.7V-1.7Q-3.3 -2.1 -2.9 -2.1Z" transform="translate(865.8,605.6) rotate(45)" fill="#fff" stroke="#111111" stroke-width="1.5"/>
<path d="M853.9 622.4L842.0 634.4" stroke="#111111" stroke-width="2.5" fill="none" stroke-linecap="butt"/>
<path d="M-2.9 -2.1H1.2A2.1 2.1 0 0 1 1.2 2.1H-2.9Q-3.3 2.1 -3.3 1.7V-1.7Q-3.3 -2.1 -2.9 -2.1Z" transform="translate(842.0,634.4) rotate(135)" fill="#fff" stroke="#111111" stroke-width="1.5"/>
<path d="M884.0 387.7V456.2" stroke="#111111" stroke-width="1.9" fill="none"/>
<path d="M884.0 402.6L872.1 414.6" stroke="#111111" stroke-width="2.5" fill="none" stroke-linecap="butt"/>
<path d="M-2.9 -2.1H1.2A2.1 2.1 0 0 1 1.2 2.1H-2.9Q-3.3 2.1 -3.3 1.7V-1.7Q-3.3 -2.1 -2.9 -2.1Z" transform="translate(872.1,414.6) rotate(135)" fill="#fff" stroke="#111111" stroke-width="1.5"/>
<path d="M884.0 429.3L895.9 441.3" stroke="#111111" stroke-width="2.5" fill="none" stroke-linecap="butt"/>
<path d="M-2.9 -2.1H1.2A2.1 2.1 0 0 1 1.2 2.1H-2.9Q-3.3 2.1 -3.3 1.7V-1.7Q-3.3 -2.1 -2.9 -2.1Z" transform="translate(895.9,441.3) rotate(45)" fill="#fff" stroke="#111111" stroke-width="1.5"/>
<path d="M884.0 456.2L872.1 468.2" stroke="#111111" stroke-width="2.5" fill="none" stroke-linecap="butt"/>
<path d="M-2.9 -2.1H1.2A2.1 2.1 0 0 1 1.2 2.1H-2.9Q-3.3 2.1 -3.3 1.7V-1.7Q-3.3 -2.1 -2.9 -2.1Z" transform="translate(872.1,468.2) rotate(135)" fill="#fff" stroke="#111111" stroke-width="1.5"/>
<path d="M914.0 387.7V511.0" stroke="#111111" stroke-width="1.9" fill="none"/>
<path d="M914.0 429.3L925.9 441.3" stroke="#111111" stroke-width="2.5" fill="none" stroke-linecap="butt"/>
<path d="M-2.9 -2.1H1.2A2.1 2.1 0 0 1 1.2 2.1H-2.9Q-3.3 2.1 -3.3 1.7V-1.7Q-3.3 -2.1 -2.9 -2.1Z" transform="translate(925.9,441.3) rotate(45)" fill="#fff" stroke="#111111" stroke-width="1.5"/>
<path d="M914.0 456.2L902.1 468.2" stroke="#111111" stroke-width="2.5" fill="none" stroke-linecap="butt"/>
<path d="M-2.9 -2.1H1.2A2.1 2.1 0 0 1 1.2 2.1H-2.9Q-3.3 2.1 -3.3 1.7V-1.7Q-3.3 -2.1 -2.9 -2.1Z" transform="translate(902.1,468.2) rotate(135)" fill="#fff" stroke="#111111" stroke-width="1.5"/>
<path d="M914.0 483.7L925.9 495.7" stroke="#111111" stroke-width="2.5" fill="none" stroke-linecap="butt"/>
<path d="M-2.9 -2.1H1.2A2.1 2.1 0 0 1 1.2 2.1H-2.9Q-3.3 2.1 -3.3 1.7V-1.7Q-3.3 -2.1 -2.9 -2.1Z" transform="translate(925.9,495.7) rotate(45)" fill="#fff" stroke="#111111" stroke-width="1.5"/>
<path d="M914.0 511.0L902.1 523.0" stroke="#111111" stroke-width="2.5" fill="none" stroke-linecap="butt"/>
<path d="M-2.9 -2.1H1.2A2.1 2.1 0 0 1 1.2 2.1H-2.9Q-3.3 2.1 -3.3 1.7V-1.7Q-3.3 -2.1 -2.9 -2.1Z" transform="translate(902.1,523.0) rotate(135)" fill="#fff" stroke="#111111" stroke-width="1.5"/>
<path d="M944.0 387.7V622.4" stroke="#111111" stroke-width="1.9" fill="none"/>
<path d="M944.0 402.6L932.1 414.6" stroke="#111111" stroke-width="2.5" fill="none" stroke-linecap="butt"/>
<path d="M-2.9 -2.1H1.2A2.1 2.1 0 0 1 1.2 2.1H-2.9Q-3.3 2.1 -3.3 1.7V-1.7Q-3.3 -2.1 -2.9 -2.1Z" transform="translate(932.1,414.6) rotate(135)" fill="#fff" stroke="#111111" stroke-width="1.5"/>
<path d="M944.0 429.3L955.9 441.3" stroke="#111111" stroke-width="2.5" fill="none" stroke-linecap="butt"/>
<path d="M-2.9 -2.1H1.2A2.1 2.1 0 0 1 1.2 2.1H-2.9Q-3.3 2.1 -3.3 1.7V-1.7Q-3.3 -2.1 -2.9 -2.1Z" transform="translate(955.9,441.3) rotate(45)" fill="#fff" stroke="#111111" stroke-width="1.5"/>
<path d="M944.0 456.2L932.1 468.2" stroke="#111111" stroke-width="2.5" fill="none" stroke-linecap="butt"/>
<path d="M-2.9 -2.1H1.2A2.1 2.1 0 0 1 1.2 2.1H-2.9Q-3.3 2.1 -3.3 1.7V-1.7Q-3.3 -2.1 -2.9 -2.1Z" transform="translate(932.1,468.2) rotate(135)" fill="#fff" stroke="#111111" stroke-width="1.5"/>
<path d="M944.0 511.0L932.1 523.0" stroke="#111111" stroke-width="2.5" fill="none" stroke-linecap="butt"/>
<path d="M-2.9 -2.1H1.2A2.1 2.1 0 0 1 1.2 2.1H-2.9Q-3.3 2.1 -3.3 1.7V-1.7Q-3.3 -2.1 -2.9 -2.1Z" transform="translate(932.1,523.0) rotate(135)" fill="#fff" stroke="#111111" stroke-width="1.5"/>
<path d="M944.0 538.6L955.9 550.6" stroke="#111111" stroke-width="2.5" fill="none" stroke-linecap="butt"/>
<path d="M-2.9 -2.1H1.2A2.1 2.1 0 0 1 1.2 2.1H-2.9Q-3.3 2.1 -3.3 1.7V-1.7Q-3.3 -2.1 -2.9 -2.1Z" transform="translate(955.9,550.6) rotate(45)" fill="#fff" stroke="#111111" stroke-width="1.5"/>
<path d="M944.0 568.2L932.1 580.2" stroke="#111111" stroke-width="2.5" fill="none" stroke-linecap="butt"/>
<path d="M-2.9 -2.1H1.2A2.1 2.1 0 0 1 1.2 2.1H-2.9Q-3.3 2.1 -3.3 1.7V-1.7Q-3.3 -2.1 -2.9 -2.1Z" transform="translate(932.1,580.2) rotate(135)" fill="#fff" stroke="#111111" stroke-width="1.5"/>
<path d="M944.0 593.6L955.9 605.6" stroke="#111111" stroke-width="2.5" fill="none" stroke-linecap="butt"/>
<path d="M-2.9 -2.1H1.2A2.1 2.1 0 0 1 1.2 2.1H-2.9Q-3.3 2.1 -3.3 1.7V-1.7Q-3.3 -2.1 -2.9 -2.1Z" transform="translate(955.9,605.6) rotate(45)" fill="#fff" stroke="#111111" stroke-width="1.5"/>
<path d="M944.0 622.4L932.1 634.4" stroke="#111111" stroke-width="2.5" fill="none" stroke-linecap="butt"/>
<path d="M-2.9 -2.1H1.2A2.1 2.1 0 0 1 1.2 2.1H-2.9Q-3.3 2.1 -3.3 1.7V-1.7Q-3.3 -2.1 -2.9 -2.1Z" transform="translate(932.1,634.4) rotate(135)" fill="#fff" stroke="#111111" stroke-width="1.5"/>
<path d="M283.1 483.1L295.8 673.4H330M480 673.4H529.6L924.1 632.7" stroke="#111111" stroke-width="1.5" fill="none"/>
<rect x="322.7" y="656.2" width="164.3" height="35.3" fill="#111111"/>
<text x="330.6" y="681.1" font-size="19.2" fill="#fff" textLength="147" lengthAdjust="spacingAndGlyphs" >Nr. LED-uri: 1122</text>
<text x="955.8" y="668.1" font-size="25" fill="#111111" textLength="95" lengthAdjust="spacingAndGlyphs" >Spațiere</text>
<path d="M865.5 693.1H1119.2" stroke="#111111" stroke-width="1.8" fill="none"/>
<path d="M887.7 693.1V759.6" stroke="#111111" stroke-width="1.9" fill="none"/>
<path d="M887.7 706.6L875.8 718.6" stroke="#111111" stroke-width="2.5" fill="none" stroke-linecap="butt"/>
<path d="M-2.9 -2.1H1.2A2.1 2.1 0 0 1 1.2 2.1H-2.9Q-3.3 2.1 -3.3 1.7V-1.7Q-3.3 -2.1 -2.9 -2.1Z" transform="translate(875.8,718.6) rotate(135)" fill="#fff" stroke="#111111" stroke-width="1.5"/>
<path d="M887.7 732.2L899.6 744.2" stroke="#111111" stroke-width="2.5" fill="none" stroke-linecap="butt"/>
<path d="M-2.9 -2.1H1.2A2.1 2.1 0 0 1 1.2 2.1H-2.9Q-3.3 2.1 -3.3 1.7V-1.7Q-3.3 -2.1 -2.9 -2.1Z" transform="translate(899.6,744.2) rotate(45)" fill="#fff" stroke="#111111" stroke-width="1.5"/>
<path d="M887.7 759.6L875.8 771.6" stroke="#111111" stroke-width="2.5" fill="none" stroke-linecap="butt"/>
<path d="M-2.9 -2.1H1.2A2.1 2.1 0 0 1 1.2 2.1H-2.9Q-3.3 2.1 -3.3 1.7V-1.7Q-3.3 -2.1 -2.9 -2.1Z" transform="translate(875.8,771.6) rotate(135)" fill="#fff" stroke="#111111" stroke-width="1.5"/>
<path d="M928.0 693.1V814.2" stroke="#111111" stroke-width="1.9" fill="none"/>
<path d="M928.0 732.2L939.9 744.2" stroke="#111111" stroke-width="2.5" fill="none" stroke-linecap="butt"/>
<path d="M-2.9 -2.1H1.2A2.1 2.1 0 0 1 1.2 2.1H-2.9Q-3.3 2.1 -3.3 1.7V-1.7Q-3.3 -2.1 -2.9 -2.1Z" transform="translate(939.9,744.2) rotate(45)" fill="#fff" stroke="#111111" stroke-width="1.5"/>
<path d="M928.0 759.6L916.1 771.6" stroke="#111111" stroke-width="2.5" fill="none" stroke-linecap="butt"/>
<path d="M-2.9 -2.1H1.2A2.1 2.1 0 0 1 1.2 2.1H-2.9Q-3.3 2.1 -3.3 1.7V-1.7Q-3.3 -2.1 -2.9 -2.1Z" transform="translate(916.1,771.6) rotate(135)" fill="#fff" stroke="#111111" stroke-width="1.5"/>
<path d="M928.0 788.8L939.9 800.8" stroke="#111111" stroke-width="2.5" fill="none" stroke-linecap="butt"/>
<path d="M-2.9 -2.1H1.2A2.1 2.1 0 0 1 1.2 2.1H-2.9Q-3.3 2.1 -3.3 1.7V-1.7Q-3.3 -2.1 -2.9 -2.1Z" transform="translate(939.9,800.8) rotate(45)" fill="#fff" stroke="#111111" stroke-width="1.5"/>
<path d="M928.0 814.2L916.1 826.2" stroke="#111111" stroke-width="2.5" fill="none" stroke-linecap="butt"/>
<path d="M-2.9 -2.1H1.2A2.1 2.1 0 0 1 1.2 2.1H-2.9Q-3.3 2.1 -3.3 1.7V-1.7Q-3.3 -2.1 -2.9 -2.1Z" transform="translate(916.1,826.2) rotate(135)" fill="#fff" stroke="#111111" stroke-width="1.5"/>
<path d="M972.1 693.1V925.5" stroke="#111111" stroke-width="1.9" fill="none"/>
<path d="M972.1 706.6L960.2 718.6" stroke="#111111" stroke-width="2.5" fill="none" stroke-linecap="butt"/>
<path d="M-2.9 -2.1H1.2A2.1 2.1 0 0 1 1.2 2.1H-2.9Q-3.3 2.1 -3.3 1.7V-1.7Q-3.3 -2.1 -2.9 -2.1Z" transform="translate(960.2,718.6) rotate(135)" fill="#fff" stroke="#111111" stroke-width="1.5"/>
<path d="M972.1 732.2L984.0 744.2" stroke="#111111" stroke-width="2.5" fill="none" stroke-linecap="butt"/>
<path d="M-2.9 -2.1H1.2A2.1 2.1 0 0 1 1.2 2.1H-2.9Q-3.3 2.1 -3.3 1.7V-1.7Q-3.3 -2.1 -2.9 -2.1Z" transform="translate(984.0,744.2) rotate(45)" fill="#fff" stroke="#111111" stroke-width="1.5"/>
<path d="M972.1 759.6L960.2 771.6" stroke="#111111" stroke-width="2.5" fill="none" stroke-linecap="butt"/>
<path d="M-2.9 -2.1H1.2A2.1 2.1 0 0 1 1.2 2.1H-2.9Q-3.3 2.1 -3.3 1.7V-1.7Q-3.3 -2.1 -2.9 -2.1Z" transform="translate(960.2,771.6) rotate(135)" fill="#fff" stroke="#111111" stroke-width="1.5"/>
<path d="M972.1 788.8L984.0 800.8" stroke="#111111" stroke-width="2.5" fill="none" stroke-linecap="butt"/>
<path d="M-2.9 -2.1H1.2A2.1 2.1 0 0 1 1.2 2.1H-2.9Q-3.3 2.1 -3.3 1.7V-1.7Q-3.3 -2.1 -2.9 -2.1Z" transform="translate(984.0,800.8) rotate(45)" fill="#fff" stroke="#111111" stroke-width="1.5"/>
<path d="M972.1 814.2L960.2 826.2" stroke="#111111" stroke-width="2.5" fill="none" stroke-linecap="butt"/>
<path d="M-2.9 -2.1H1.2A2.1 2.1 0 0 1 1.2 2.1H-2.9Q-3.3 2.1 -3.3 1.7V-1.7Q-3.3 -2.1 -2.9 -2.1Z" transform="translate(960.2,826.2) rotate(135)" fill="#fff" stroke="#111111" stroke-width="1.5"/>
<path d="M972.1 843.2L984.0 855.2" stroke="#111111" stroke-width="2.5" fill="none" stroke-linecap="butt"/>
<path d="M-2.9 -2.1H1.2A2.1 2.1 0 0 1 1.2 2.1H-2.9Q-3.3 2.1 -3.3 1.7V-1.7Q-3.3 -2.1 -2.9 -2.1Z" transform="translate(984.0,855.2) rotate(45)" fill="#fff" stroke="#111111" stroke-width="1.5"/>
<path d="M972.1 871.4L960.2 883.4" stroke="#111111" stroke-width="2.5" fill="none" stroke-linecap="butt"/>
<path d="M-2.9 -2.1H1.2A2.1 2.1 0 0 1 1.2 2.1H-2.9Q-3.3 2.1 -3.3 1.7V-1.7Q-3.3 -2.1 -2.9 -2.1Z" transform="translate(960.2,883.4) rotate(135)" fill="#fff" stroke="#111111" stroke-width="1.5"/>
<path d="M972.1 896.6L984.0 908.6" stroke="#111111" stroke-width="2.5" fill="none" stroke-linecap="butt"/>
<path d="M-2.9 -2.1H1.2A2.1 2.1 0 0 1 1.2 2.1H-2.9Q-3.3 2.1 -3.3 1.7V-1.7Q-3.3 -2.1 -2.9 -2.1Z" transform="translate(984.0,908.6) rotate(45)" fill="#fff" stroke="#111111" stroke-width="1.5"/>
<path d="M972.1 925.5L960.2 937.5" stroke="#111111" stroke-width="2.5" fill="none" stroke-linecap="butt"/>
<path d="M-2.9 -2.1H1.2A2.1 2.1 0 0 1 1.2 2.1H-2.9Q-3.3 2.1 -3.3 1.7V-1.7Q-3.3 -2.1 -2.9 -2.1Z" transform="translate(960.2,937.5) rotate(135)" fill="#fff" stroke="#111111" stroke-width="1.5"/>
<path d="M1012.2 693.1V759.6" stroke="#111111" stroke-width="1.9" fill="none"/>
<path d="M1012.2 706.6L1000.3 718.6" stroke="#111111" stroke-width="2.5" fill="none" stroke-linecap="butt"/>
<path d="M-2.9 -2.1H1.2A2.1 2.1 0 0 1 1.2 2.1H-2.9Q-3.3 2.1 -3.3 1.7V-1.7Q-3.3 -2.1 -2.9 -2.1Z" transform="translate(1000.3,718.6) rotate(135)" fill="#fff" stroke="#111111" stroke-width="1.5"/>
<path d="M1012.2 732.2L1024.1 744.2" stroke="#111111" stroke-width="2.5" fill="none" stroke-linecap="butt"/>
<path d="M-2.9 -2.1H1.2A2.1 2.1 0 0 1 1.2 2.1H-2.9Q-3.3 2.1 -3.3 1.7V-1.7Q-3.3 -2.1 -2.9 -2.1Z" transform="translate(1024.1,744.2) rotate(45)" fill="#fff" stroke="#111111" stroke-width="1.5"/>
<path d="M1012.2 759.6L1000.3 771.6" stroke="#111111" stroke-width="2.5" fill="none" stroke-linecap="butt"/>
<path d="M-2.9 -2.1H1.2A2.1 2.1 0 0 1 1.2 2.1H-2.9Q-3.3 2.1 -3.3 1.7V-1.7Q-3.3 -2.1 -2.9 -2.1Z" transform="translate(1000.3,771.6) rotate(135)" fill="#fff" stroke="#111111" stroke-width="1.5"/>
<path d="M1052.7 693.1V814.2" stroke="#111111" stroke-width="1.9" fill="none"/>
<path d="M1052.7 732.2L1064.6 744.2" stroke="#111111" stroke-width="2.5" fill="none" stroke-linecap="butt"/>
<path d="M-2.9 -2.1H1.2A2.1 2.1 0 0 1 1.2 2.1H-2.9Q-3.3 2.1 -3.3 1.7V-1.7Q-3.3 -2.1 -2.9 -2.1Z" transform="translate(1064.6,744.2) rotate(45)" fill="#fff" stroke="#111111" stroke-width="1.5"/>
<path d="M1052.7 759.6L1040.8 771.6" stroke="#111111" stroke-width="2.5" fill="none" stroke-linecap="butt"/>
<path d="M-2.9 -2.1H1.2A2.1 2.1 0 0 1 1.2 2.1H-2.9Q-3.3 2.1 -3.3 1.7V-1.7Q-3.3 -2.1 -2.9 -2.1Z" transform="translate(1040.8,771.6) rotate(135)" fill="#fff" stroke="#111111" stroke-width="1.5"/>
<path d="M1052.7 788.8L1064.6 800.8" stroke="#111111" stroke-width="2.5" fill="none" stroke-linecap="butt"/>
<path d="M-2.9 -2.1H1.2A2.1 2.1 0 0 1 1.2 2.1H-2.9Q-3.3 2.1 -3.3 1.7V-1.7Q-3.3 -2.1 -2.9 -2.1Z" transform="translate(1064.6,800.8) rotate(45)" fill="#fff" stroke="#111111" stroke-width="1.5"/>
<path d="M1052.7 814.2L1040.8 826.2" stroke="#111111" stroke-width="2.5" fill="none" stroke-linecap="butt"/>
<path d="M-2.9 -2.1H1.2A2.1 2.1 0 0 1 1.2 2.1H-2.9Q-3.3 2.1 -3.3 1.7V-1.7Q-3.3 -2.1 -2.9 -2.1Z" transform="translate(1040.8,826.2) rotate(135)" fill="#fff" stroke="#111111" stroke-width="1.5"/>
<path d="M1096.9 693.1V925.5" stroke="#111111" stroke-width="1.9" fill="none"/>
<path d="M1096.9 706.6L1085.0 718.6" stroke="#111111" stroke-width="2.5" fill="none" stroke-linecap="butt"/>
<path d="M-2.9 -2.1H1.2A2.1 2.1 0 0 1 1.2 2.1H-2.9Q-3.3 2.1 -3.3 1.7V-1.7Q-3.3 -2.1 -2.9 -2.1Z" transform="translate(1085.0,718.6) rotate(135)" fill="#fff" stroke="#111111" stroke-width="1.5"/>
<path d="M1096.9 732.2L1108.8 744.2" stroke="#111111" stroke-width="2.5" fill="none" stroke-linecap="butt"/>
<path d="M-2.9 -2.1H1.2A2.1 2.1 0 0 1 1.2 2.1H-2.9Q-3.3 2.1 -3.3 1.7V-1.7Q-3.3 -2.1 -2.9 -2.1Z" transform="translate(1108.8,744.2) rotate(45)" fill="#fff" stroke="#111111" stroke-width="1.5"/>
<path d="M1096.9 759.6L1085.0 771.6" stroke="#111111" stroke-width="2.5" fill="none" stroke-linecap="butt"/>
<path d="M-2.9 -2.1H1.2A2.1 2.1 0 0 1 1.2 2.1H-2.9Q-3.3 2.1 -3.3 1.7V-1.7Q-3.3 -2.1 -2.9 -2.1Z" transform="translate(1085.0,771.6) rotate(135)" fill="#fff" stroke="#111111" stroke-width="1.5"/>
<path d="M1096.9 788.8L1108.8 800.8" stroke="#111111" stroke-width="2.5" fill="none" stroke-linecap="butt"/>
<path d="M-2.9 -2.1H1.2A2.1 2.1 0 0 1 1.2 2.1H-2.9Q-3.3 2.1 -3.3 1.7V-1.7Q-3.3 -2.1 -2.9 -2.1Z" transform="translate(1108.8,800.8) rotate(45)" fill="#fff" stroke="#111111" stroke-width="1.5"/>
<path d="M1096.9 814.2L1085.0 826.2" stroke="#111111" stroke-width="2.5" fill="none" stroke-linecap="butt"/>
<path d="M-2.9 -2.1H1.2A2.1 2.1 0 0 1 1.2 2.1H-2.9Q-3.3 2.1 -3.3 1.7V-1.7Q-3.3 -2.1 -2.9 -2.1Z" transform="translate(1085.0,826.2) rotate(135)" fill="#fff" stroke="#111111" stroke-width="1.5"/>
<path d="M1096.9 843.2L1108.8 855.2" stroke="#111111" stroke-width="2.5" fill="none" stroke-linecap="butt"/>
<path d="M-2.9 -2.1H1.2A2.1 2.1 0 0 1 1.2 2.1H-2.9Q-3.3 2.1 -3.3 1.7V-1.7Q-3.3 -2.1 -2.9 -2.1Z" transform="translate(1108.8,855.2) rotate(45)" fill="#fff" stroke="#111111" stroke-width="1.5"/>
<path d="M1096.9 871.4L1085.0 883.4" stroke="#111111" stroke-width="2.5" fill="none" stroke-linecap="butt"/>
<path d="M-2.9 -2.1H1.2A2.1 2.1 0 0 1 1.2 2.1H-2.9Q-3.3 2.1 -3.3 1.7V-1.7Q-3.3 -2.1 -2.9 -2.1Z" transform="translate(1085.0,883.4) rotate(135)" fill="#fff" stroke="#111111" stroke-width="1.5"/>
<path d="M1096.9 896.6L1108.8 908.6" stroke="#111111" stroke-width="2.5" fill="none" stroke-linecap="butt"/>
<path d="M-2.9 -2.1H1.2A2.1 2.1 0 0 1 1.2 2.1H-2.9Q-3.3 2.1 -3.3 1.7V-1.7Q-3.3 -2.1 -2.9 -2.1Z" transform="translate(1108.8,908.6) rotate(45)" fill="#fff" stroke="#111111" stroke-width="1.5"/>
<path d="M1096.9 925.5L1085.0 937.5" stroke="#111111" stroke-width="2.5" fill="none" stroke-linecap="butt"/>
<path d="M-2.9 -2.1H1.2A2.1 2.1 0 0 1 1.2 2.1H-2.9Q-3.3 2.1 -3.3 1.7V-1.7Q-3.3 -2.1 -2.9 -2.1Z" transform="translate(1085.0,937.5) rotate(135)" fill="#fff" stroke="#111111" stroke-width="1.5"/>
<text x="716.2" y="755.4" font-size="16" fill="#111111" textLength="31.5" lengthAdjust="spacingAndGlyphs" >9cm</text>
<path d="M887 734L757.7 752.1L887 759.5" stroke="#111111" stroke-width="1.3" fill="none"/>
<path d="M1132.6 704V934" stroke="#111111" stroke-width="5.2"/>
<path d="M1132.8 698.9L1140.2 705.6H1125.4Z M1132.8 939.2L1140.2 932.5H1125.4Z" fill="#111111" stroke="#111111" stroke-width="1" stroke-linejoin="round"/>
<text x="1149.8" y="815.3" font-size="15.8" fill="#111111" textLength="36.3" lengthAdjust="spacingAndGlyphs" >0,7m</text>
<path d="M1020 870.2H1048.5" stroke="#111111" stroke-width="5"/>
<path d="M1015.1 870.2L1021.5 864.3V876.1Z M1053.4 870.2L1047 864.3V876.1Z" fill="#111111" stroke="#111111" stroke-width="1" stroke-linejoin="round"/>
<text x="1015.9" y="894.7" font-size="16.2" fill="#111111" textLength="39" lengthAdjust="spacingAndGlyphs" >16cm</text>
<text x="54" y="694" font-size="24.5" fill="#111111" textLength="205.5" lengthAdjust="spacingAndGlyphs" >Mărimea LED-ului</text>
<rect x="222" y="808.9" width="173.3" height="60.8" fill="#111111"/>
<circle cx="154.2" cy="839.3" r="77" fill="#fff" stroke="#111111" stroke-width="1.5"/>
<text x="237.2" y="832.9" font-size="18.5" fill="#fff" textLength="152" lengthAdjust="spacingAndGlyphs" >LED-uri cu lumină</text>
<text x="237.2" y="855.6" font-size="18.5" fill="#fff" textLength="79" lengthAdjust="spacingAndGlyphs" >puternică</text>
<rect x="147" y="767.5" width="15.4" height="89" fill="#fff" stroke="#111111" stroke-width="1.2"/>
<path d="M144 755.4V746.9A10.65 10.65 0 0 1 165.3 746.9V755.4Z" fill="#fff" stroke="#111111" stroke-width="1.2"/>
<path d="M146.3 753V747.2A8.3 8.3 0 0 1 162.4 745" stroke="#111111" stroke-width="0.8" fill="none"/>
<rect x="142.3" y="755.4" width="24.4" height="12.1" fill="#fff" stroke="#111111" stroke-width="1.2"/>
<path d="M147 728H162.5" stroke="#111111" stroke-width="3"/>
<path d="M143.4 728L148.5 723.6V732.4Z M166.3 728L161.2 723.6V732.4Z" fill="#111111" stroke="#111111" stroke-width="0.8" stroke-linejoin="round"/>
<text x="141.5" y="718.5" font-size="10.7" fill="#111111" textLength="30.5" lengthAdjust="spacingAndGlyphs" >5mm</text>
<path d="M174.3 739V752" stroke="#111111" stroke-width="3.2"/>
<path d="M174.3 734.6L179.2 740.4H169.4Z M174.3 756.5L179.2 750.7H169.4Z" fill="#111111" stroke="#111111" stroke-width="0.8" stroke-linejoin="round"/>
<text x="181.6" y="749" font-size="10.7" fill="#111111" textLength="29" lengthAdjust="spacingAndGlyphs" >5mm</text>
<path d="M128 760V852" stroke="#111111" stroke-width="3.5"/>
<path d="M128 755.4L133.2 761.5H122.8Z M128 857L133.2 850.9H122.8Z" fill="#111111" stroke="#111111" stroke-width="0.8" stroke-linejoin="round"/>
<text x="88.6" y="814.1" font-size="12" fill="#111111" textLength="36" lengthAdjust="spacingAndGlyphs" >25mm</text>
<path d="M59.2 864.4 C66 867 72 868.8 77 868.9 C90 867.5 110 866.5 134.4 866 C140 862 150 858.6 159.7 858.4 C170 858.6 178 860 183.3 860.5 C195 860.8 205 861 207 861 C220 862 232 863.5 252.6 866.9 L244 882 C225 880 215 879 207 878.7 C190 877.5 180 876.5 173.2 876.9 C160 878.5 150 880 139.4 881.2 C120 883.5 105 884.8 97.2 884.6 C85 884 78 883.5 71.9 882.9 Z" fill="#fff" stroke="#111111" stroke-width="1.7" stroke-linejoin="round"/>
<path d="M59.2 864.4 C64 872 68 878 71.9 882.9" fill="none" stroke="#111111" stroke-width="1.6"/>
<path d="M65 871.5 C85 874 110 878 131 881.5" fill="none" stroke="#111111" stroke-width="1.6"/>
<path d="M77 869 C100 870 120 871.5 136 873.6 C150 875 163 876.5 173.2 877" fill="none" stroke="#111111" stroke-width="1.6"/>
<path d="M88.8 873.8 C110 875.5 130 877 149.6 878.9" fill="none" stroke="#111111" stroke-width="1.6"/>
<path d="M134.4 866 C148 869 162 873 173.2 877" fill="none" stroke="#111111" stroke-width="1.6"/>
<path d="M146.2 860 C160 866 170 872 180 875.3 C190 877.5 200 878.5 207 878.7" fill="none" stroke="#111111" stroke-width="1.6"/>
<path d="M159.7 858.4 C175 862 190 869 201.9 873.6 C215 878 230 881 240.7 882.1" fill="none" stroke="#111111" stroke-width="1.6"/>
<path d="M183.3 860.5 C200 864 212 870 223.9 873.6 C232 876 242 878 249.2 878.9" fill="none" stroke="#111111" stroke-width="1.6"/>
<path d="M207 861 C222 864 238 868 250 871" fill="none" stroke="#111111" stroke-width="1.6"/>
<path d="M180 866.5 C195 868 215 871 230 874" fill="none" stroke="#111111" stroke-width="1.6"/>
<text x="128.6" y="990.8" font-size="25" fill="#111111" textLength="960.5" lengthAdjust="spacingAndGlyphs" >*Dimensiunile produsului sunt aproximative și variază din cauza îndoiturilor din cablu.</text>
<g id="logo">
<path d="M31.5 268 C31.5 240 50 224 72 219 C95 214 112 219 130 223 C150 227 168 218 183 228 C196 238 197 262 195.5 275 C194 290 190 298 180 304 C160 310 130 312 110 316 C90 320 65 320 50 312 C36 303 31.5 290 31.5 268 Z" fill="#dcdcdc"/>
<path d="M43 272 C42 250 56 236 76 231 C98 226 120 230 140 231 C160 232 176 236 184 248 C190 258 191 275 190 288 L186 300 L60 306 C50 296 43 288 43 272 Z" fill="#cfcfcf"/>
<path d="M70 234 C88 226 105 222 125 226 C140 229 152 234 162 242 C142 237 118 233 98 235 C85 236.5 76 239 70 242 Z" fill="#d9d9d9"/>
<path d="M58 272 C57 255 68 242 92 238 C115 234 140 238 162 242 C176 246 183 254 185 266 C186 276 186 285 185 292 L60 298 C58 290 58 280 58 272 Z" fill="#b4b4b4"/>
<path d="M55 262.5 C57 259 62 258 66 258.5 C70 256.5 74 258 76 262.5 Z" fill="#d4d4d4"/>
<path d="M82 249 A4 4 0 1 0 84 256 A3 3 0 1 1 82 249Z" fill="#e2e2e2"/>
<circle cx="93" cy="241" r="1" fill="#ececec"/>
<circle cx="116" cy="250" r="1" fill="#ececec"/>
<circle cx="128" cy="251" r="1" fill="#ececec"/>
<circle cx="140" cy="257" r="1" fill="#ececec"/>
<circle cx="62" cy="246" r="1" fill="#ececec"/>
<circle cx="45" cy="258" r="1" fill="#ececec"/>
<circle cx="50" cy="266" r="1" fill="#ececec"/>
<circle cx="100" cy="262" r="1" fill="#ececec"/>
<path d="M144 282 L148 270 L146 270 L152 254 L158 270 L156 270 L161 282 Z M160 284 L164 272 L162 272 L168 259 L172 272 L170 272 L174 284 Z" fill="#cacaca"/>
<path d="M82 304 C92 296 100 287 108 280 C116 285 124 293 140 297 L150 304 Z" fill="#c6c6c6"/>
<path d="M36 296 C50 300 62 306 80 306 C100 306 108 300 120 301 C135 302 145 295 160 295 C175 295 185 292 191 290 C190 300 184 304 175 306 C150 308 130 308 115 313 C95 319 70 321 52 313 C42 308 36 302 36 296 Z" fill="#f0f0f0"/>
<path d="M36.5 293 L41 284 L39.5 284 L43.6 275.5 L47.7 284 L46.2 284 L50.7 293 Z" fill="#f2f2f2"/><rect x="42.6" y="293" width="2" height="5" fill="#e8e8e8"/>
<path d="M51 299.6 L55.5 292.4 H78.5 L81 299.6 Z" fill="#f8f8f8"/>
<rect x="53" y="299.6" width="26" height="12" fill="#f3f3f3"/>
<rect x="56" y="302.5" width="3.2" height="4.2" fill="#a8a8a8"/><rect x="63" y="302.5" width="3.2" height="4.2" fill="#a8a8a8"/>
<path d="M165 291 L169.5 281 L167.5 281 L172.5 272 L170.5 272 L176 263.5 L181.5 272 L179.5 272 L184.5 281 L182.5 281 L187 291 Z M147 293 L151 285 L149.5 285 L155 275.5 L160.5 285 L159 285 L163 293 Z M180 292 L184 283 L182.5 283 L187 277 L191.5 283 L190 283 L194 292 Z" fill="#f4f4f4"/>
<rect x="175" y="291" width="2" height="8" fill="#e6e6e6"/>
<path d="M104 304 L105 287 Q106 283 108 281.5 L110.5 281.5 Q112 284 112 288 C116 290 128 289.5 134 291 Q137.5 293 136.5 298 L130 301 L129 310 L127 310 L126.5 302 L114 302 L111 310 L109 310 Z" fill="#ececec"/>
<path d="M108 282 L104.5 277 L102.5 276 M105.8 278.8 L103 279 M111 282 L114 277 L116.5 276 M113 279 L116 279.5" stroke="#e6e6e6" stroke-width="1.3" fill="none"/>
<path d="M73 298 L74 287 Q75 283.5 77 282.5 L79 282.5 Q80.5 285 80.5 288 L83 291 L83 300 Z" fill="#d9d9d9"/>
<path d="M76.5 283 L74 278.5 L72.5 277.5 M75 280.3 L72.8 280.5 M79.5 283 L82 278.5 L83.5 277.5 M81 280.5 L83.5 281" stroke="#d6d6d6" stroke-width="1.1" fill="none"/>
<path d="M128 305 C132 299 145 296 168 298 C175 298 180 300 182 304 L170 306 L130 307 Z" fill="#f6f6f6"/>
</g>
<path d="M124.5 316.2V331.5M124.5 316.2H135.5M124.5 323.5H133M137.6 316.2V331H148.5M151.3 316.2V331.5M156.6 331.5V316.2H163C168.3 316.2 168.3 324.6 163 324.6H156.6M170.6 331.5V316.2H177C182.3 316.2 182.3 324.6 177 324.6H170.6M183.2 316.2L189.2 324.2L195.2 316.2M189.2 324.2V331.5" stroke="#8d8d8d" stroke-width="1.3" fill="none"/>
<circle cx="196.3" cy="330.6" r="0.9" fill="#8d8d8d"/>
<path d="M105 347 C102 342 96 344 95.5 352 C95 360 100 363 106 359 C110 352 114 344 115 339 C116 334 112 334 111 340 L108.5 362 M109.5 354 C112 347 119 345 119.5 351 L118.5 361 C121 356 124 350 126 347 C127 350 127 352 130 350 C131 349 133 348 134.5 349 L132 361 C135 360 137 356 139 350 L137.5 361 M141 359 C146 362 156 363 156 356 C156 351 148 351 150 346 C152 343 157 343 159 346 M159 358 C163 356 168 350 170 337 C170.5 334 172 335 171 340 L168.5 362 M162 348.5 H177 M176 361 L178 348 C181 346 185 346 185 351 L184 361 M185 351 C187 346 194 346 194 351 L193 361 M209 350 C206 345 198 346 197.5 354 C197 361 206 362 209 355 M210 347 L208.5 361 M212 358 C217 362 227 363 227 356 C227 351 219 351 221 346 C223 342 227 341 230 344" stroke="#aaaaaa" stroke-width="4.6" fill="none" stroke-linecap="round" stroke-linejoin="round"/>
<circle cx="138.5" cy="341" r="2.3" fill="#aaaaaa"/>
</svg></body></html>
